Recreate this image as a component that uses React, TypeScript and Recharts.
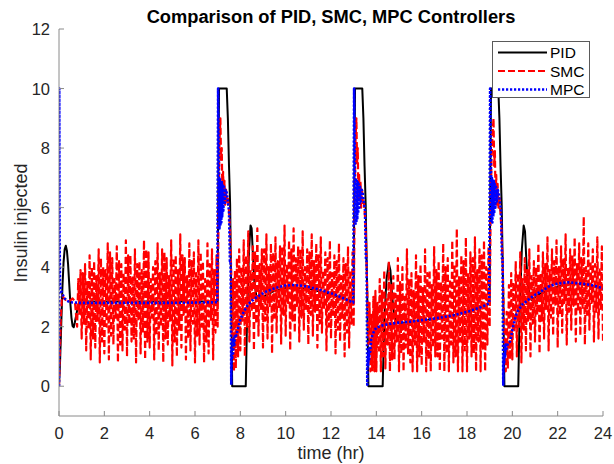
import React from 'react';
import { LineChart, Line, XAxis, YAxis } from 'recharts';

// ---------- data (time in hr, insulin injected) ----------
const xTicks = [0, 2, 4, 6, 8, 10, 12, 14, 16, 18, 20, 22, 24];
const yTicks = [0, 2, 4, 6, 8, 10, 12];

type P = [number, number];

const pidSeries: P[] = [
  [0, 0], [0.05, 0.9], [0.1, 2.1], [0.15, 3.3], [0.2, 4.15], [0.25, 4.6], [0.3, 4.72], [0.35, 4.55],
  [0.4, 4.1], [0.45, 3.45], [0.5, 2.8], [0.55, 2.3], [0.6, 2.02], [0.65, 1.98], [0.7, 2.15], [0.8, 2.55],
  [0.9, 2.82], [1.0, 2.9], [1.3, 2.85], [7.0, 2.85], [7.03, 7], [7.06, 10], [7.4, 10], [7.45, 9.0],
  [7.5, 7.4], [7.55, 6.1], [7.6, 3.0], [7.64, 0], [8.24, 0], [8.3, 2.4], [8.38, 4.5], [8.45, 5.4],
  [8.5, 5.3], [8.55, 4.5], [8.62, 3.5], [8.72, 2.95], [9.0, 3.0], [9.5, 3.2], [10, 3.3], [11, 3.28],
  [12, 3.08], [13, 2.85], [13.03, 7], [13.06, 10], [13.38, 10], [13.43, 9.0], [13.48, 7.4], [13.53, 6.1],
  [13.6, 3.0], [13.65, 0], [14.28, 0], [14.35, 2.2], [14.45, 3.6], [14.55, 4.13], [14.62, 3.9], [14.7, 3.0],
  [14.8, 2.3], [15, 2.12], [16, 2.2], [17, 2.3], [18, 2.5], [19, 2.78], [19.03, 7], [19.06, 10],
  [19.38, 10], [19.43, 9.0], [19.48, 7.4], [19.53, 6.1], [19.6, 3.0], [19.65, 0], [20.26, 0], [20.32, 2.4],
  [20.42, 4.6], [20.5, 5.4], [20.56, 5.2], [20.62, 4.2], [20.7, 3.3], [20.85, 2.9], [21.2, 3.1], [22, 3.35],
  [22.6, 3.45], [23.3, 3.4], [24, 3.3],
];

// SMC, piece by piece
const smcStart: P[] = [
  [0, 0], [0.04, 1.2], [0.08, 2.3], [0.12, 2.9], [0.16, 3.05], [0.22, 2.95], [0.3, 2.9], [0.4, 2.92],
  [0.5, 2.88], [0.6, 2.95], [0.7, 2.85],
];
const smcHold1: P[] = [
  [0.8, 2.0], [0.85, 3.6], [0.9, 2.4], [0.95, 3.9], [1.0, 1.6], [1.05, 3.8], [1.1, 2.1], [1.15, 4.1],
  [1.2, 1.2], [1.25, 3.5], [1.3, 1.9], [1.35, 4.4], [1.4, 0.9], [1.45, 4.0], [1.5, 1.6], [1.55, 4.2],
  [1.6, 1.3], [1.65, 3.7], [1.7, 2.2], [1.75, 4.6], [1.8, 0.8], [1.85, 4.3], [1.9, 1.5], [1.95, 4.0],
  [2.0, 1.1], [2.05, 3.9], [2.1, 2.0], [2.15, 4.8], [2.2, 0.9], [2.25, 4.5], [2.3, 1.7], [2.35, 4.3],
  [2.4, 1.4], [2.45, 3.6], [2.5, 2.3], [2.55, 4.7], [2.6, 0.8], [2.65, 4.2], [2.7, 1.4], [2.75, 4.1],
  [2.8, 1.2], [2.85, 3.8], [2.9, 1.9], [2.95, 4.9], [3.0, 1.0], [3.05, 4.4], [3.1, 2.1], [3.15, 4.4],
  [3.2, 1.5], [3.25, 3.7], [3.3, 1.6], [3.35, 4.6], [3.4, 0.8], [3.45, 4.1], [3.5, 2.2], [3.55, 4.2],
  [3.6, 1.1], [3.65, 3.9], [3.7, 1.8], [3.75, 4.9], [3.8, 0.9], [3.85, 4.6], [3.9, 1.5], [3.95, 4.5],
  [4.0, 1.3], [4.05, 3.6], [4.1, 2.3], [4.15, 4.0], [4.2, 0.9], [4.25, 4.2], [4.3, 1.7], [4.35, 4.8],
  [4.4, 1.2], [4.45, 3.8], [4.5, 2.0], [4.55, 4.6], [4.6, 0.8], [4.65, 4.5], [4.7, 1.6], [4.75, 4.3],
  [4.8, 1.4], [4.85, 3.7], [4.9, 2.2], [4.95, 4.9], [5.0, 0.7], [5.05, 4.3], [5.1, 1.5], [5.15, 4.4],
  [5.2, 1.0], [5.25, 3.9], [5.3, 1.9], [5.35, 5.1], [5.4, 1.3], [5.45, 4.4], [5.5, 2.4], [5.55, 4.3],
  [5.6, 0.9], [5.65, 3.7], [5.7, 1.6], [5.75, 4.8], [5.8, 1.2], [5.85, 4.2], [5.9, 2.1], [5.95, 4.5],
  [6.0, 0.8], [6.05, 3.8], [6.1, 1.7], [6.15, 4.9], [6.2, 1.4], [6.25, 4.5], [6.3, 2.0], [6.35, 4.2],
  [6.4, 0.8], [6.45, 3.6], [6.5, 1.5], [6.55, 4.8], [6.6, 1.1], [6.65, 4.1], [6.7, 2.2], [6.75, 4.6],
  [6.8, 0.9], [6.85, 3.9], [6.9, 1.8], [6.95, 4.4],
];
const smcPulse1: P[] = [
  [7.0, 2.0], [7.04, 6.0], [7.08, 8.2], [7.12, 9.0], [7.15, 7.6], [7.18, 8.0], [7.21, 6.4], [7.24, 7.2],
  [7.27, 6.2], [7.3, 6.9], [7.33, 6.1], [7.37, 6.6], [7.41, 6.2], [7.45, 6.3], [7.5, 5.9], [7.55, 5.2],
  [7.6, 3.8], [7.64, 1.5], [7.68, 3.6], [7.72, 0.5], [7.76, 3.9], [7.8, 0.6], [7.85, 4.3], [7.9, 1.0],
  [7.95, 4.6],
];
const smcHold2: P[] = [
  [8.0, 1.2], [8.05, 4.0], [8.1, 2.2], [8.15, 4.9], [8.2, 1.0], [8.25, 4.4], [8.3, 2.0], [8.35, 5.2],
  [8.4, 1.5], [8.45, 3.9], [8.5, 2.5], [8.55, 4.7], [8.6, 1.2], [8.65, 4.5], [8.7, 2.1], [8.75, 5.3],
  [8.8, 1.7], [8.85, 4.1], [8.9, 2.6], [8.95, 4.6], [9.0, 1.3], [9.05, 4.6], [9.1, 2.2], [9.15, 5.1],
  [9.2, 1.6], [9.25, 4.0], [9.3, 2.7], [9.35, 4.8], [9.4, 1.1], [9.45, 4.5], [9.5, 2.3], [9.55, 5.0],
  [9.6, 1.8], [9.65, 4.2], [9.7, 2.6], [9.75, 4.7], [9.8, 1.4], [9.85, 4.7], [9.9, 2.4], [9.95, 5.4],
  [10.0, 1.7], [10.05, 4.1], [10.1, 2.8], [10.15, 4.9], [10.2, 1.2], [10.25, 4.6], [10.3, 2.2], [10.35, 5.3],
  [10.4, 1.8], [10.45, 4.3], [10.5, 2.7], [10.55, 4.7], [10.6, 1.5], [10.65, 4.6], [10.7, 2.3], [10.75, 5.2],
  [10.8, 1.9], [10.85, 4.0], [10.9, 2.6], [10.95, 4.6], [11.0, 1.4], [11.05, 4.5], [11.1, 2.4], [11.15, 5.1],
  [11.2, 1.7], [11.25, 4.2], [11.3, 2.5], [11.35, 4.8], [11.4, 1.3], [11.45, 4.4], [11.5, 2.1], [11.55, 5.0],
  [11.6, 1.8], [11.65, 3.9], [11.7, 2.6], [11.75, 4.5], [11.8, 1.2], [11.85, 4.3], [11.9, 2.0], [11.95, 4.9],
  [12.0, 1.6], [12.05, 3.8], [12.1, 2.4], [12.15, 4.4], [12.2, 1.1], [12.25, 4.2], [12.3, 1.9], [12.35, 4.8],
  [12.4, 1.5], [12.45, 3.7], [12.5, 2.3], [12.55, 4.3], [12.6, 1.0], [12.65, 4.1], [12.7, 1.8], [12.75, 4.7],
  [12.8, 1.3], [12.85, 3.9], [12.9, 2.1], [12.95, 4.5],
];
const smcPulse2: P[] = [
  [13.0, 2.0], [13.04, 6.0], [13.08, 8.2], [13.12, 9.0], [13.15, 7.5], [13.18, 8.0], [13.21, 6.3], [13.24, 7.1],
  [13.27, 6.2], [13.3, 6.9], [13.33, 6.0], [13.37, 6.6], [13.41, 6.1], [13.45, 6.2], [13.5, 5.7], [13.55, 4.8],
  [13.6, 3.2], [13.65, 1.4], [13.7, 2.8], [13.74, 0.5], [13.78, 2.4], [13.82, 0.5], [13.87, 3.0], [13.92, 0.5],
  [13.96, 3.2],
];
const smcHold3: P[] = [
  [14.0, 0.5], [14.05, 2.8], [14.1, 1.2], [14.15, 3.6], [14.2, 0.5], [14.25, 3.2], [14.3, 1.0], [14.35, 3.9],
  [14.4, 0.6], [14.45, 3.0], [14.5, 1.4], [14.55, 4.2], [14.6, 0.5], [14.65, 3.4], [14.7, 0.9], [14.75, 3.7],
  [14.8, 0.9], [14.85, 3.1], [14.9, 1.5], [14.95, 4.3], [15.0, 0.5], [15.05, 3.5], [15.1, 1.1], [15.15, 4.0],
  [15.2, 0.5], [15.25, 3.0], [15.3, 1.3], [15.35, 4.6], [15.4, 1.1], [15.45, 3.6], [15.5, 0.8], [15.55, 3.8],
  [15.6, 0.5], [15.65, 3.2], [15.7, 1.4], [15.75, 4.4], [15.8, 0.5], [15.85, 3.7], [15.9, 1.0], [15.95, 4.1],
  [16.0, 0.7], [16.05, 3.3], [16.1, 1.5], [16.15, 4.6], [16.2, 0.5], [16.25, 3.8], [16.3, 0.9], [16.35, 3.9],
  [16.4, 0.5], [16.45, 3.4], [16.5, 1.3], [16.55, 4.7], [16.6, 1.0], [16.65, 3.9], [16.7, 1.0], [16.75, 4.2],
  [16.8, 0.5], [16.85, 3.5], [16.9, 1.6], [16.95, 4.8], [17.0, 0.5], [17.05, 4.0], [17.1, 1.1], [17.15, 4.3],
  [17.2, 0.5], [17.25, 3.6], [17.3, 1.4], [17.35, 4.9], [17.4, 0.8], [17.45, 4.1], [17.5, 1.0], [17.55, 5.3],
  [17.6, 0.5], [17.65, 3.7], [17.7, 1.5], [17.75, 4.4], [17.8, 0.5], [17.85, 4.2], [17.9, 1.2], [17.95, 5.0],
  [18.0, 0.5], [18.05, 3.8], [18.1, 1.6], [18.15, 4.5], [18.2, 1.0], [18.25, 4.3], [18.3, 1.1], [18.35, 5.0],
  [18.4, 0.5], [18.45, 3.9], [18.5, 1.5], [18.55, 4.6], [18.6, 0.5], [18.65, 4.4], [18.7, 1.2], [18.75, 4.9],
  [18.8, 0.5], [18.85, 4.0], [18.9, 1.4], [18.95, 4.7],
];
const smcPulse3: P[] = [
  [19.0, 2.0], [19.04, 5.8], [19.08, 7.6], [19.12, 8.4], [19.17, 9.0], [19.2, 7.4], [19.23, 7.9], [19.26, 6.3],
  [19.29, 7.1], [19.32, 6.1], [19.35, 6.8], [19.39, 6.0], [19.43, 6.4], [19.47, 5.9], [19.52, 5.3], [19.57, 4.2],
  [19.62, 2.6], [19.67, 1.2], [19.71, 0.5], [19.75, 2.5], [19.8, 0.6], [19.85, 3.4], [19.9, 0.9], [19.95, 3.8],
];
const smcHold4: P[] = [
  [20.0, 0.9], [20.05, 3.5], [20.1, 1.8], [20.15, 4.2], [20.2, 1.0], [20.25, 3.8], [20.3, 2.0], [20.35, 4.5],
  [20.4, 0.8], [20.45, 3.6], [20.5, 1.9], [20.55, 4.3], [20.6, 1.2], [20.65, 3.9], [20.7, 2.2], [20.75, 4.6],
  [20.8, 1.0], [20.85, 3.7], [20.9, 2.1], [20.95, 4.2], [21.0, 1.5], [21.05, 4.0], [21.1, 2.4], [21.15, 4.8],
  [21.2, 1.1], [21.25, 3.8], [21.3, 2.2], [21.35, 4.5], [21.4, 1.6], [21.45, 4.1], [21.5, 2.6], [21.55, 5.0],
  [21.6, 1.2], [21.65, 3.9], [21.7, 2.3], [21.75, 4.6], [21.8, 1.7], [21.85, 4.2], [21.9, 2.7], [21.95, 4.9],
  [22.0, 1.3], [22.05, 4.0], [22.1, 2.4], [22.15, 4.7], [22.2, 1.8], [22.25, 4.3], [22.3, 2.8], [22.35, 5.1],
  [22.4, 1.4], [22.45, 4.0], [22.5, 2.5], [22.55, 4.6], [22.6, 1.9], [22.65, 4.4], [22.7, 2.7], [22.75, 5.0],
  [22.8, 1.5], [22.85, 4.1], [22.9, 2.5], [22.95, 4.8], [23.0, 1.7], [23.05, 4.3], [23.1, 2.6], [23.15, 5.7],
  [23.2, 1.4], [23.25, 4.0], [23.3, 2.4], [23.35, 4.8], [23.4, 1.9], [23.45, 4.2], [23.5, 2.8], [23.55, 4.6],
  [23.6, 1.5], [23.65, 4.1], [23.7, 2.5], [23.75, 5.0], [23.8, 1.6], [23.85, 4.0], [23.9, 2.6], [23.95, 4.7],
  [24.0, 1.5],
];
const smcSeries: P[] = [
  ...smcStart, ...smcHold1, ...smcPulse1, ...smcHold2, ...smcPulse2, ...smcHold3, ...smcPulse3, ...smcHold4,
];

const mpcSeries: P[] = [
  [0, 0], [0.01, 10], [0.025, 5.0], [0.045, 3.4], [0.08, 3.25], [0.12, 3.15], [0.18, 3.05], [0.25, 2.95],
  [0.35, 2.87], [0.5, 2.82], [1.0, 2.8], [3, 2.8], [5, 2.8], [6.98, 2.82],
  [7.02, 10], [7.06, 7.0], [7.08, 5.3], [7.1, 7.0], [7.12, 5.4], [7.14, 6.9], [7.16, 5.5], [7.18, 6.9],
  [7.2, 5.7], [7.22, 6.8], [7.25, 5.9], [7.28, 6.7], [7.31, 6.1], [7.35, 6.6], [7.4, 6.5], [7.45, 6.2],
  [7.5, 5.9], [7.54, 4.2], [7.57, 4.2], [7.6, 0.05], [7.62, 1.3], [7.64, 0.9], [7.66, 1.5], [7.68, 1.1],
  [7.7, 1.6], [7.73, 1.35], [7.77, 1.75], [7.82, 1.7], [7.9, 1.95], [8.0, 2.25], [8.15, 2.5], [8.35, 2.75],
  [8.6, 2.93], [8.95, 3.1], [9.2, 3.2], [9.55, 3.3], [9.95, 3.38], [10.3, 3.4], [10.8, 3.37], [11.1, 3.32],
  [11.6, 3.22], [12.1, 3.1], [12.5, 2.97], [12.85, 2.85], [12.98, 2.81],
  [13.02, 10], [13.06, 7.0], [13.08, 5.4], [13.1, 7.0], [13.12, 5.5], [13.14, 6.9], [13.16, 5.6], [13.18, 6.9],
  [13.2, 5.8], [13.22, 6.8], [13.25, 6.0], [13.28, 6.7], [13.31, 6.2], [13.35, 6.6], [13.4, 6.5], [13.45, 6.2],
  [13.5, 5.9], [13.54, 4.3], [13.57, 4.3], [13.6, 0.05], [13.62, 1.0], [13.64, 0.7], [13.66, 1.2], [13.68, 0.9],
  [13.7, 1.35], [13.73, 1.15], [13.77, 1.55], [13.82, 1.7], [13.9, 1.85], [14.0, 1.97], [14.3, 2.05], [14.8, 2.12],
  [15.5, 2.17], [16.0, 2.22], [16.8, 2.3], [17.5, 2.4], [18.1, 2.52], [18.6, 2.65], [18.98, 2.78],
  [19.02, 10], [19.06, 7.0], [19.08, 5.5], [19.1, 7.0], [19.12, 5.5], [19.14, 6.9], [19.16, 5.7], [19.18, 6.9],
  [19.2, 5.8], [19.22, 6.8], [19.25, 6.0], [19.28, 6.7], [19.31, 6.2], [19.35, 6.6], [19.4, 6.5], [19.45, 6.2],
  [19.5, 5.9], [19.54, 4.3], [19.57, 4.3], [19.6, 0.05], [19.62, 1.1], [19.64, 0.8], [19.66, 1.3], [19.68, 1.0],
  [19.7, 1.4], [19.74, 1.25], [19.8, 1.45], [19.9, 1.5], [20.04, 2.03], [20.2, 2.48], [20.45, 2.75], [20.93, 3.04],
  [21.3, 3.2], [21.66, 3.37], [22.0, 3.45], [22.47, 3.49], [22.9, 3.46], [23.27, 3.43], [23.7, 3.36], [24, 3.28],
];

const seriesNames = ['PID', 'SMC', 'MPC'];
const titleText = 'Comparison of PID, SMC, MPC Controllers';
const xLabelText = 'time (hr)';
const yLabelText = 'Insulin injected';

// ---------- layout / style ----------
const W = 614;
const H = 464;
const MARGIN = { top: 29, right: 11, left: 0, bottom: 0 };
const Y_AXIS_W = 59;
const X_AXIS_H = 48;
const PLOT_LEFT = MARGIN.left + Y_AXIS_W;
const PLOT_RIGHT = W - MARGIN.right;
const PLOT_TOP = MARGIN.top;
const PLOT_BOTTOM = H - MARGIN.bottom - X_AXIS_H;
const TICK_LEN = 5;
const FONT = '"Liberation Sans", Arial, Helvetica, sans-serif';
const TEXT = '#262626';
const AXIS = '#8a8a8a';
const TICK_FS = 16.5;
const LABEL_FS = 18;

const COLORS = { pid: '#000000', smc: '#ff0000', mpc: '#0000ff' };
const DASH = { pid: undefined as string | undefined, smc: '7 3', mpc: '2.2 1.8' };
const WIDTH = { pid: 2, smc: 2.2, mpc: 2.6 };

const toPts = (s: P[]) => s.map(([t, v]) => ({ t, v }));

const BottomTick = (props: any) => {
  const { x, payload } = props;
  return (
    <g>
      <line x1={x} x2={x} y1={PLOT_BOTTOM} y2={PLOT_BOTTOM - TICK_LEN} stroke={AXIS} />
      <text x={x} y={PLOT_BOTTOM + 17} textAnchor="middle" dominantBaseline="central"
        fill={TEXT} fontSize={TICK_FS} fontFamily={FONT}>{payload.value}</text>
    </g>
  );
};
const TopTick = (props: any) => {
  const { x } = props;
  return <line x1={x} x2={x} y1={PLOT_TOP} y2={PLOT_TOP + TICK_LEN} stroke={AXIS} />;
};
const LeftTick = (props: any) => {
  const { y, payload } = props;
  return (
    <g>
      <line x1={PLOT_LEFT} x2={PLOT_LEFT + TICK_LEN} y1={y} y2={y} stroke={AXIS} />
      <text x={PLOT_LEFT - 9} y={y} textAnchor="end" dominantBaseline="central"
        fill={TEXT} fontSize={TICK_FS} fontFamily={FONT}>{payload.value}</text>
    </g>
  );
};
const RightTick = (props: any) => {
  const { y } = props;
  return <line x1={PLOT_RIGHT} x2={PLOT_RIGHT - TICK_LEN} y1={y} y2={y} stroke={AXIS} />;
};

const Legend = () => {
  const rows = [
    { name: seriesNames[0], c: COLORS.pid, d: DASH.pid, w: WIDTH.pid },
    { name: seriesNames[1], c: COLORS.smc, d: DASH.smc, w: WIDTH.smc },
    { name: seriesNames[2], c: COLORS.mpc, d: DASH.mpc, w: WIDTH.mpc },
  ];
  const rowY = [11.5, 30, 48.5];
  return (
    <svg width={98} height={58} style={{ position: 'absolute', left: 492, top: 41 }}>
      <rect x={0.5} y={0.5} width={97} height={56} fill="#fff" stroke="#5a5a5a" strokeWidth={1} />
      {rows.map((r, i) => (
        <g key={r.name}>
          <line x1={6} x2={55} y1={rowY[i]} y2={rowY[i]} stroke={r.c} strokeWidth={r.w}
            strokeDasharray={r.d} />
          <text x={58} y={rowY[i]} dominantBaseline="central" fill="#000" fontSize={15.5}
            fontFamily={FONT}>{r.name}</text>
        </g>
      ))}
    </svg>
  );
};

export default function App() {
  return (
    <div style={{ position: 'absolute', left: 0, top: 0, width: W, height: H, background: '#fff', overflow: 'hidden' }}>
      <LineChart width={W} height={H} margin={MARGIN}>
        <XAxis xAxisId="main" type="number" dataKey="t" domain={[0, 24]} ticks={xTicks} interval={0}
          height={X_AXIS_H} tickLine={false} tick={<BottomTick />} allowDataOverflow
          axisLine={{ stroke: AXIS }} />
        <XAxis xAxisId="top" orientation="top" type="number" dataKey="t" domain={[0, 24]} ticks={xTicks}
          interval={0} height={0} tickLine={false} tick={<TopTick />} allowDataOverflow
          axisLine={{ stroke: AXIS }} />
        <YAxis yAxisId="main" type="number" domain={[-1, 12]} ticks={yTicks} interval={0}
          width={Y_AXIS_W} tickLine={false} tick={<LeftTick />} allowDataOverflow
          axisLine={{ stroke: AXIS }} />
        <YAxis yAxisId="right" orientation="right" type="number" domain={[-1, 12]} ticks={yTicks}
          interval={0} width={0} tickLine={false} tick={<RightTick />} allowDataOverflow
          axisLine={{ stroke: AXIS }} />
        <Line xAxisId="main" yAxisId="main" data={toPts(pidSeries)} dataKey="v" name={seriesNames[0]}
          type="linear" stroke={COLORS.pid} strokeWidth={WIDTH.pid} dot={false} activeDot={false}
          isAnimationActive={false} strokeLinejoin="round" />
        <Line xAxisId="main" yAxisId="main" data={toPts(smcSeries)} dataKey="v" name={seriesNames[1]}
          type="linear" stroke={COLORS.smc} strokeWidth={WIDTH.smc} strokeDasharray={DASH.smc}
          dot={false} activeDot={false} isAnimationActive={false} strokeLinejoin="round" />
        <Line xAxisId="main" yAxisId="main" data={toPts(mpcSeries)} dataKey="v" name={seriesNames[2]}
          type="linear" stroke={COLORS.mpc} strokeWidth={WIDTH.mpc} strokeDasharray={DASH.mpc}
          dot={false} activeDot={false} isAnimationActive={false} strokeLinejoin="round" />
      </LineChart>
      <div style={{
        position: 'absolute', left: PLOT_LEFT, width: PLOT_RIGHT - PLOT_LEFT, top: 6, lineHeight: '22px',
        textAlign: 'center', fontFamily: FONT, fontWeight: 'bold', fontSize: 18.3, color: '#000',
      }}>{titleText}</div>
      <div style={{
        position: 'absolute', left: PLOT_LEFT, width: PLOT_RIGHT - PLOT_LEFT, top: 443, lineHeight: '20px',
        textAlign: 'center', fontFamily: FONT, fontSize: LABEL_FS, color: TEXT,
      }}>{xLabelText}</div>
      <div style={{
        position: 'absolute', left: 21 - 150, width: 300, top: (PLOT_TOP + PLOT_BOTTOM) / 2 - 10,
        lineHeight: '20px', textAlign: 'center', fontFamily: FONT, fontSize: LABEL_FS, color: TEXT,
        transform: 'rotate(-90deg)',
      }}>{yLabelText}</div>
      <Legend />
    </div>
  );
}
